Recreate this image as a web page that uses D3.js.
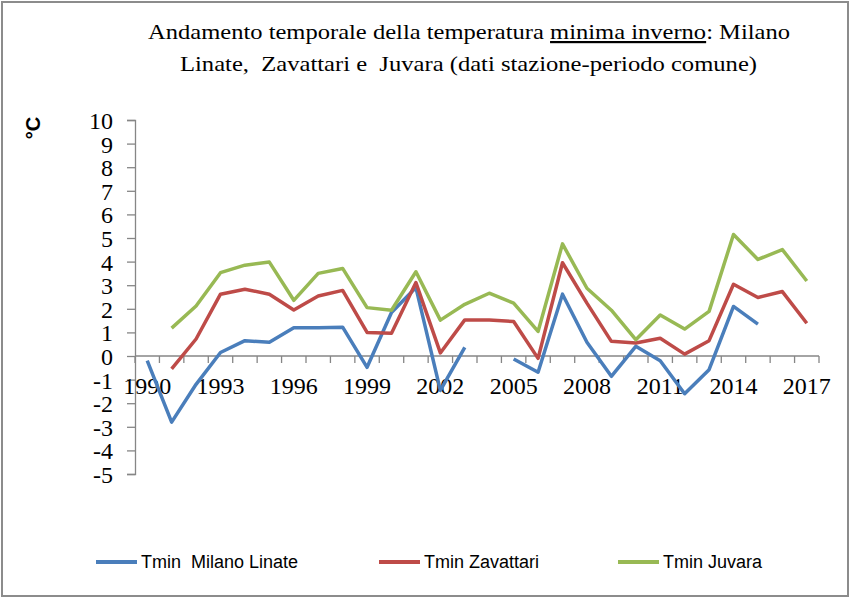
<!DOCTYPE html>
<html>
<head>
<meta charset="utf-8">
<script src="https://cdn.jsdelivr.net/npm/d3@7"></script>
<style>
  body { margin: 0; background: #fff; }
  svg { display: block; }
</style>
</head>
<body>
<div id="chart"></div>
<script>
// chart values (null = no data)
var years = d3.range(1990, 2018);
var yearLabels = [1990, 1993, 1996, 1999, 2002, 2005, 2008, 2011, 2014, 2017];
var yTicks = d3.range(-5, 11);

var linate = [-0.2, -2.8, -1.2, 0.15, 0.65, 0.58, 1.2, 1.2, 1.22, -0.48,
  1.84, 2.9, -1.46, 0.37, null, -0.13, -0.69, 2.62, 0.58, -0.86,
  0.41, -0.2, -1.6, -0.58, 2.1, 1.35, null, null];
var zavattari = [null, -0.55, 0.72, 2.62, 2.83, 2.62, 1.95, 2.54, 2.78, 1.0,
  0.96, 3.11, 0.13, 1.53, 1.53, 1.46, -0.1, 3.95, 2.24, 0.62,
  0.55, 0.75, 0.08, 0.65, 3.04, 2.48, 2.73, 1.39];
var juvara = [null, 1.18, 2.12, 3.53, 3.85, 3.98, 2.36, 3.5, 3.71, 2.05,
  1.94, 3.57, 1.52, 2.19, 2.66, 2.24, 1.04, 4.75, 2.87, 1.94,
  0.69, 1.74, 1.14, 1.89, 5.15, 4.09, 4.51, 3.18];

var seriesNames = ["Tmin  Milano Linate", "Tmin Zavattari", "Tmin Juvara"];
var seriesColors = ["#4a7ebb", "#be4b48", "#98b954"];

var svgWidth = 850;
var svgHeight = 598;

var svg = d3.select("#chart")
  .append("svg")
  .attr("width", svgWidth)
  .attr("height", svgHeight);

// outer frame
svg.append("rect")
  .attr("x", 2).attr("y", 2)
  .attr("width", svgWidth - 4).attr("height", svgHeight - 4)
  .attr("fill", "#fff")
  .attr("stroke", "#8c8c8c")
  .attr("stroke-width", 2);

// scales
var x = d3.scaleBand()
  .domain(years)
  .range([135, 819])
  .paddingInner(0).paddingOuter(0);

var y = d3.scaleLinear()
  .domain([-5, 10])
  .range([474, 120]);

var axisColor = "#868686";
var serif = "'Liberation Serif', 'Times New Roman', serif";

// y axis (plain hyphen for negatives, like the original)
var leftAxis = d3.axisLeft(y)
  .tickValues(yTicks)
  .tickSize(8)
  .tickPadding(14)
  .tickFormat(d => String(d));

var gy = svg.append("g")
  .attr("transform", "translate(135,0)")
  .call(leftAxis);
gy.selectAll("path, line").attr("stroke", axisColor).attr("stroke-width", 1.3);
gy.selectAll("text")
  .attr("fill", "#000")
  .style("font-family", serif)
  .style("font-size", "24px")
  .attr("dy", "0.35em");

// x axis at zero: tick marks on band boundaries
var gx = svg.append("g")
  .attr("transform", "translate(0," + y(0) + ")");
gx.append("line")
  .attr("x1", x.range()[0]).attr("x2", x.range()[1])
  .attr("stroke", axisColor).attr("stroke-width", 1.3);
gx.selectAll(".tick")
  .data(years.concat([2018]))
  .enter()
  .append("line")
  .attr("x1", d => d === 2018 ? x.range()[1] : x(d))
  .attr("x2", d => d === 2018 ? x.range()[1] : x(d))
  .attr("y1", 0).attr("y2", 7)
  .attr("stroke", axisColor).attr("stroke-width", 1.3);

gx.selectAll(".xlab")
  .data(yearLabels)
  .enter()
  .append("text")
  .attr("x", d => x(d) + x.bandwidth() / 2)
  .attr("y", 38)
  .attr("text-anchor", "middle")
  .style("font-family", serif)
  .style("font-size", "24px")
  .text(d => d);

// lines
var allSeries = [linate, zavattari, juvara];
var line = d3.line()
  .defined(d => d.v !== null)
  .x(d => x(d.year) + x.bandwidth() / 2)
  .y(d => y(d.v));

allSeries.forEach(function(values, i) {
  var pts = years.map((yr, j) => ({ year: yr, v: values[j] }));
  svg.append("path")
    .datum(pts)
    .attr("fill", "none")
    .attr("stroke", seriesColors[i])
    .attr("stroke-width", 3.5)
    .attr("stroke-linejoin", "round")
    .attr("d", line);
});

// y axis title
svg.append("text")
  .attr("transform", "translate(40,128) rotate(-90)")
  .attr("text-anchor", "middle")
  .style("font-family", "'Liberation Sans', Arial, sans-serif")
  .style("font-weight", "bold")
  .style("font-size", "20px")
  .text("°C");

// title (stretched a little to the width of the original)
var t1 = svg.append("text")
  .attr("x", 148).attr("y", 39)
  .attr("textLength", 642)
  .attr("lengthAdjust", "spacingAndGlyphs")
  .style("font-family", serif)
  .style("font-size", "22px");
t1.append("tspan").text("Andamento temporale della  temperatura ");
t1.append("tspan").style("text-decoration", "underline").text("minima inverno");
t1.append("tspan").text(": Milano");

svg.append("text")
  .attr("x", 180).attr("y", 71)
  .attr("textLength", 577)
  .attr("lengthAdjust", "spacingAndGlyphs")
  .style("font-family", serif)
  .style("font-size", "22px")
  .attr("xml:space", "preserve")
  .text("Linate,  Zavattari e  Juvara (dati stazione-periodo comune)");

// legend
var legendX = [96, 379, 618];
var legend = svg.selectAll(".legend")
  .data(seriesNames)
  .enter()
  .append("g")
  .attr("transform", (d, i) => "translate(" + legendX[i] + ",562)");
legend.append("line")
  .attr("x1", 0).attr("x2", 41)
  .attr("stroke", (d, i) => seriesColors[i])
  .attr("stroke-width", 4);
legend.append("text")
  .attr("x", 45)
  .attr("dy", "0.35em")
  .style("font-family", "'Liberation Sans Narrow', 'Arial Narrow', sans-serif")
  .style("font-size", "18px")
  .attr("xml:space", "preserve")
  .text(d => d);
</script>
</body>
</html>
